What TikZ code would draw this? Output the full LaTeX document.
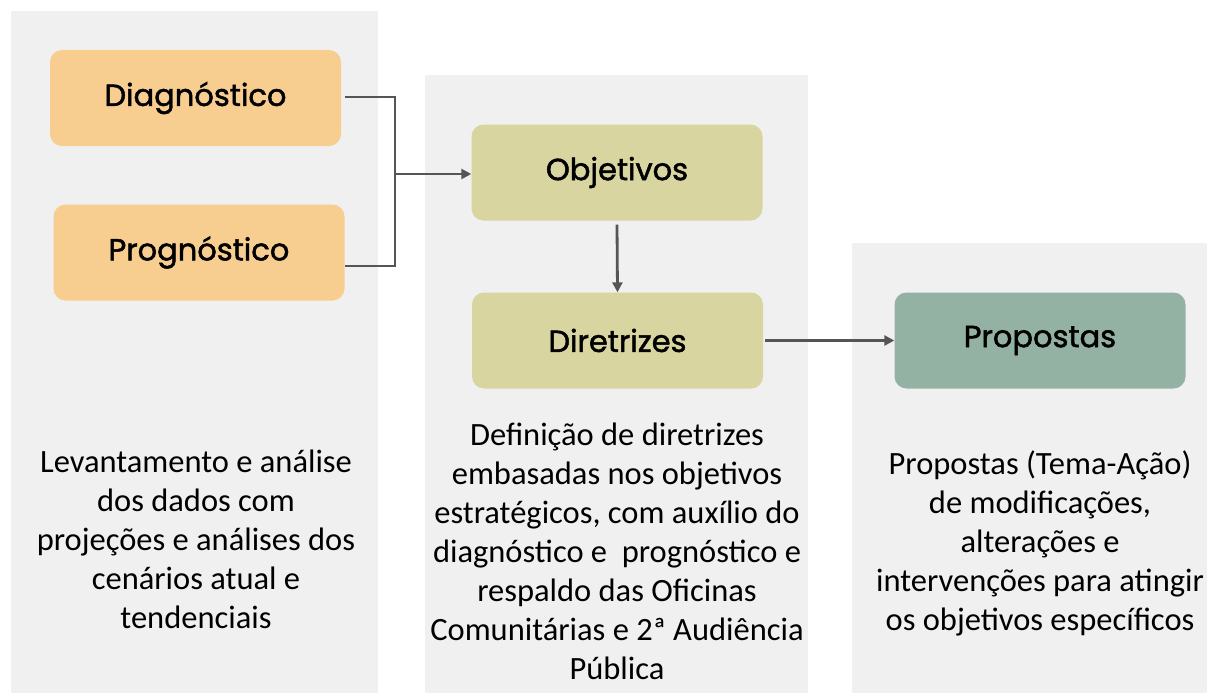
\documentclass[tikz,border=0pt]{standalone}
\usepackage{fontspec}
\setmainfont{Carlito}
\newfontfamily\boxfont[FakeBold=1.6]{Poppins}
\usetikzlibrary{arrows.meta}
\definecolor{panel}{HTML}{F0F0F0}
\definecolor{orangebox}{HTML}{F7CD90}
\definecolor{olivebox}{HTML}{D8D5A0}
\definecolor{greenbox}{HTML}{93B2A3}
\definecolor{linegray}{HTML}{555555}
\newcommand{\boxlabel}[1]{\raisebox{-2.5pt}{#1}}
\tikzset{
  panelbg/.style={fill=panel, draw=none},
  stepbox/.style={rounded corners=12pt, draw=none, minimum width=291pt, minimum height=96pt, font=\boxfont\fontsize{30.5}{34}\selectfont, text=black},
  conn/.style={draw=linegray, line width=2.8pt},
  arr/.style={conn, -{Triangle[length=10pt,width=10pt]}},
  desc/.style={align=center, font=\fontsize{32.5}{39}\selectfont, text=black}
}
\begin{document}
\begin{tikzpicture}[x=1pt,y=1pt]
\useasboundingbox (0,0) rectangle (1207,-693);
\fill[white] (0,0) rectangle (1207,-693);
\path[panelbg] (11,-11) rectangle (378,-693);
\path[panelbg] (425,-75) rectangle (808,-693);
\path[panelbg] (852,-243) rectangle (1207,-693);

\node[stepbox, fill=orangebox] (diag) at (195.5,-98) {\boxlabel{Diagnóstico}};
\node[stepbox, fill=orangebox] (prog) at (199,-252.5) {\boxlabel{Prognóstico}};
\node[stepbox, fill=olivebox] (obj) at (617,-172.5) {\boxlabel{Objetivos}};
\node[stepbox, fill=olivebox] (dir) at (617.5,-340.5) {\boxlabel{Diretrizes}};
\node[stepbox, fill=greenbox] (prop) at (1040,-340.5) {\boxlabel{Propostas}};

\coordinate (j1) at (395,-97);
\coordinate (j2) at (395,-266);
\coordinate (jm) at (395,-174);
\draw[conn] ([xshift=4pt]diag.east |- 0,-97) -- (j1) -- (j2) -- (prog.east |- j2);
\draw[arr] (jm) -- (obj.west |- jm);
\draw[arr] ([yshift=-4pt]obj.south) -- (dir.north);
\draw[arr] ([xshift=2pt]dir.east) -- (prop.west);

\node[desc, anchor=north] (t1) at (196,-446) {Levantamento e análise\\dos dados com\\projeções e análises dos\\cenários atual e\\tendenciais};
\node[desc, anchor=north] (t2) at (617,-419) {Definição de diretrizes\\embasadas nos objetivos\\estratégicos, com auxílio do\\diagnóstico e \ prognóstico e\\respaldo das Oficinas\\Comunitárias e 2ª Audiência\\Pública};
\node[desc, anchor=north] (t3) at (1040,-447) {Propostas (Tema-Ação)\\de modificações,\\alterações e\\intervenções para atingir\\os objetivos específicos};
\end{tikzpicture}
\end{document}
